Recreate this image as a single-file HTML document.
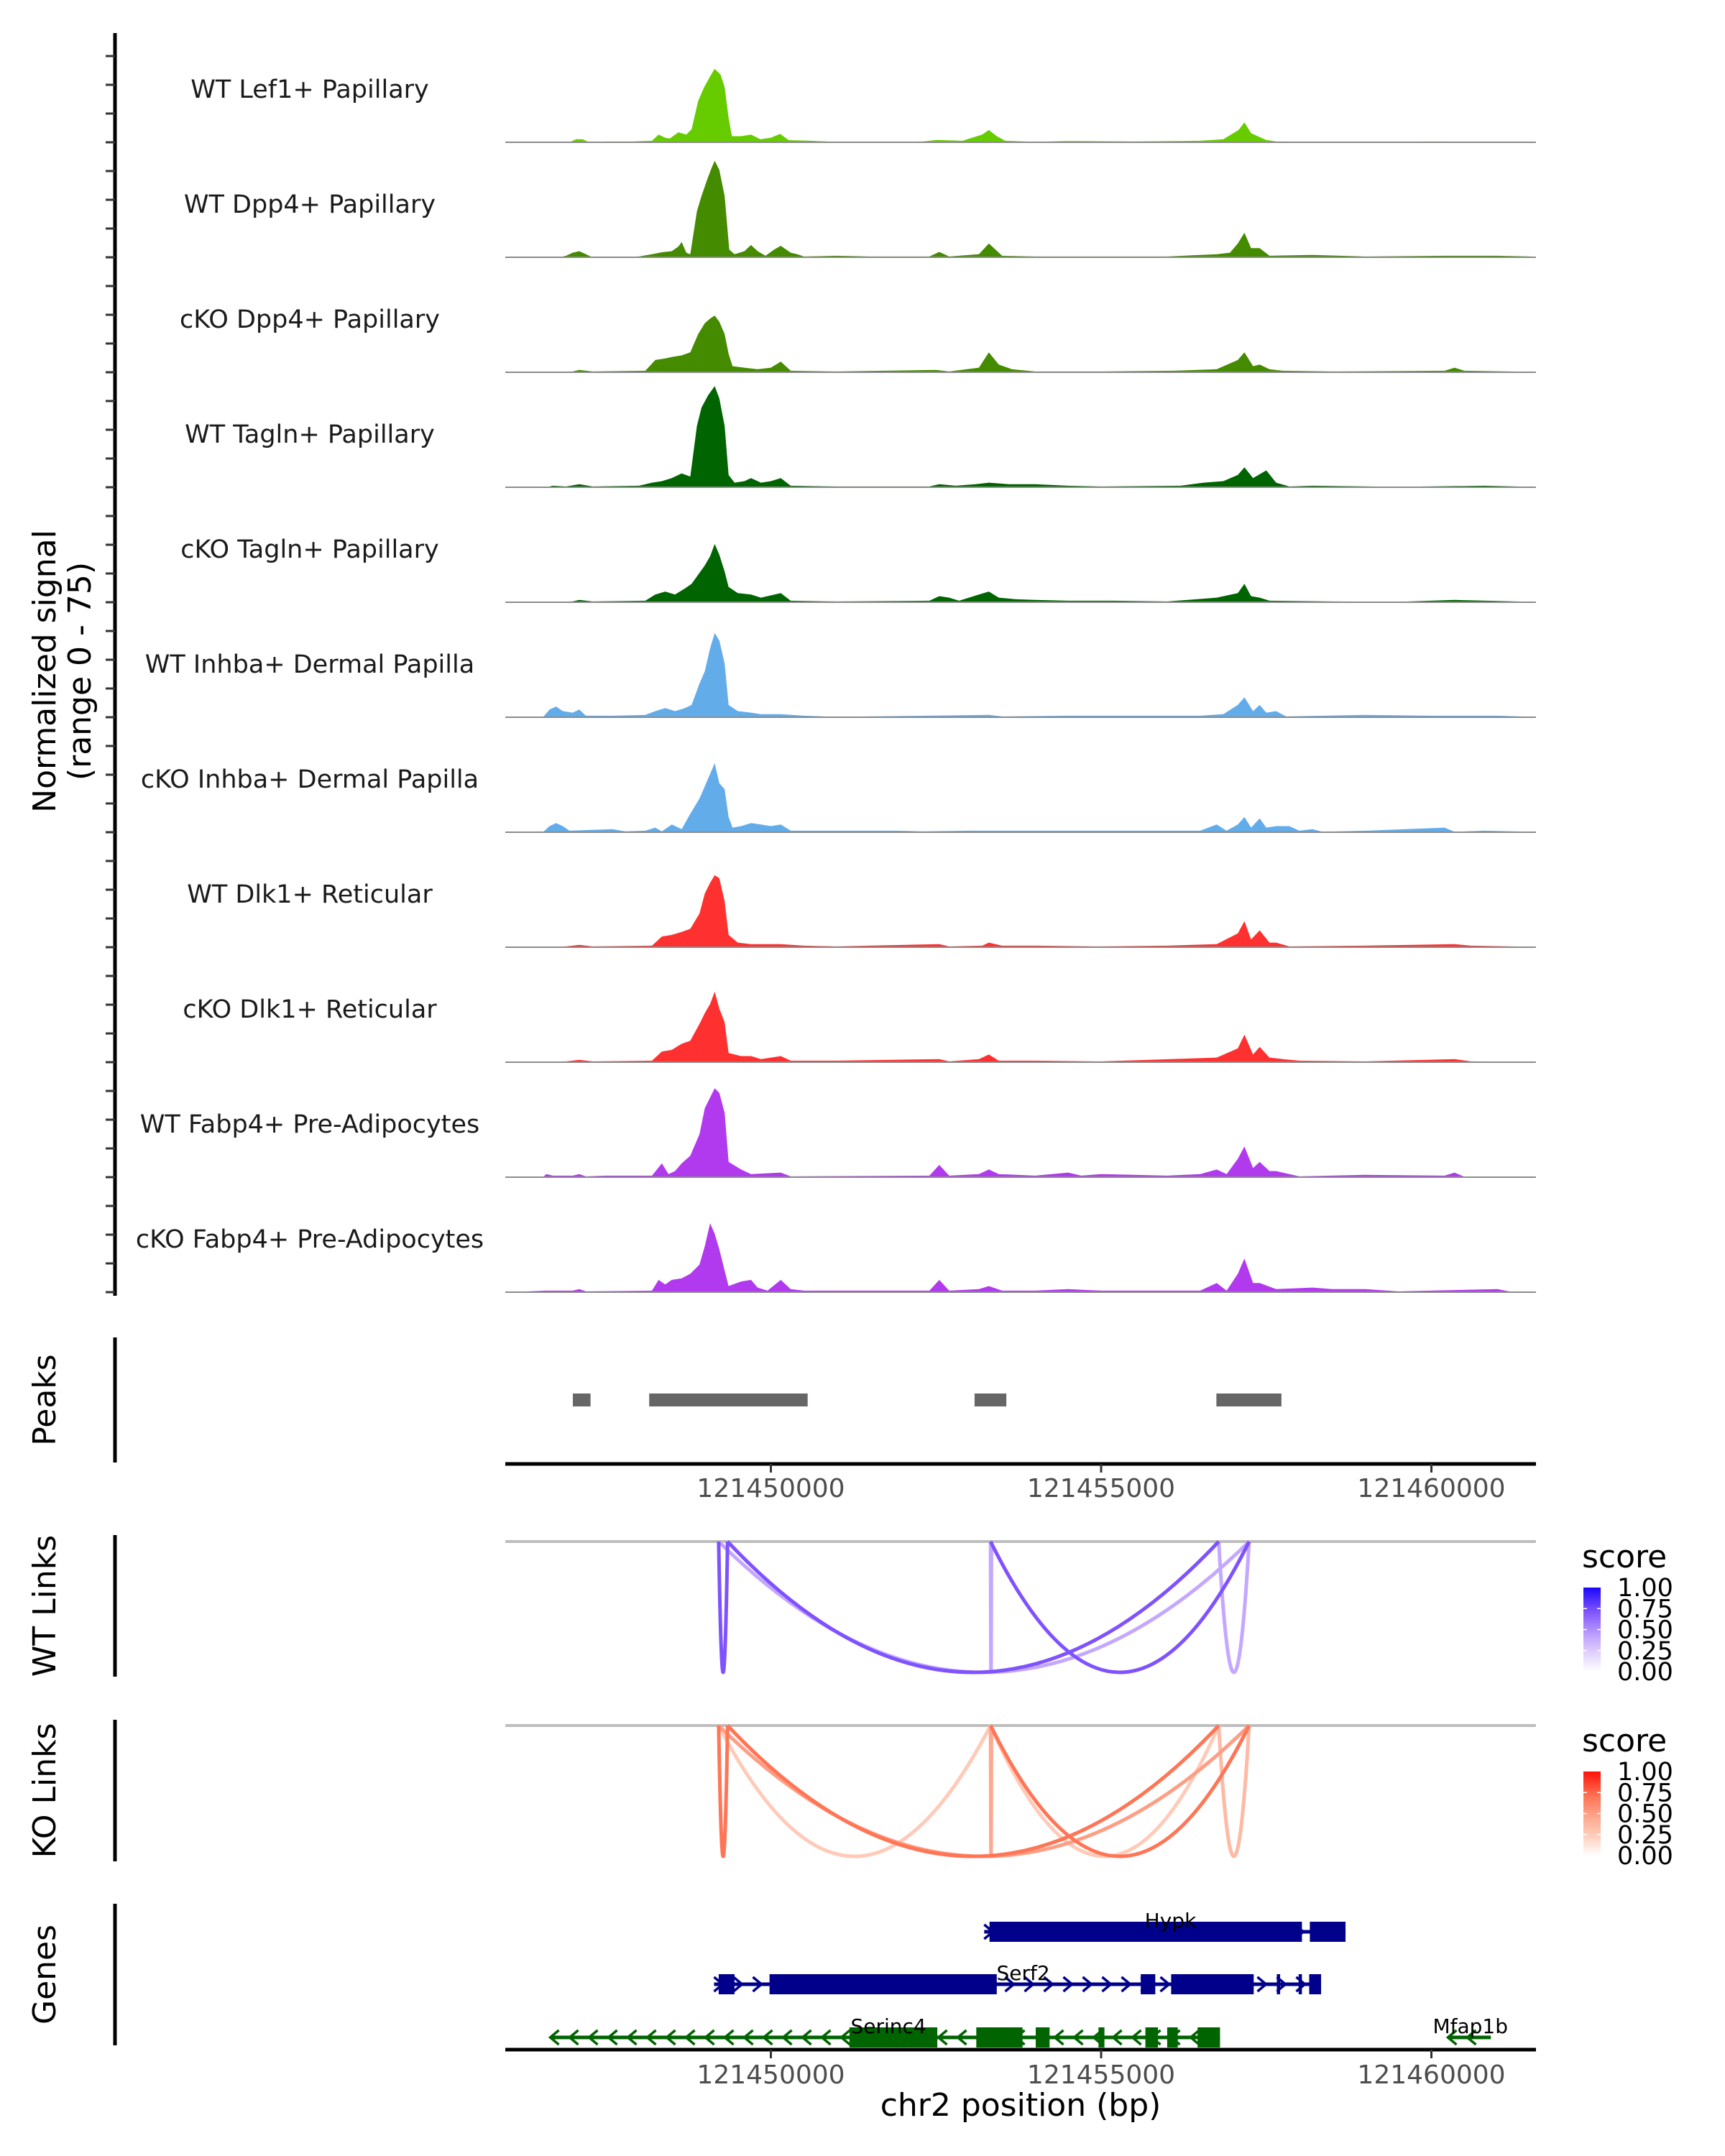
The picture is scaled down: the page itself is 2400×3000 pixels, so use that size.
<!DOCTYPE html>
<html><head><meta charset="utf-8"><style>
html,body{margin:0;padding:0;background:#fff;}
svg{display:block;font-family:"DejaVu Sans","Liberation Sans",sans-serif;}
</style></head><body>
<svg id="fig" xmlns="http://www.w3.org/2000/svg" width="2400" height="3000" viewBox="0 0 2400 3000">
<rect x="0" y="0" width="2400" height="3000" fill="#fff"/>
</svg>
<script>
// ---- data ----
const regionStartBp = 121440000; // positions below in kb relative to this
const xTickBp = [121450000, 121455000, 121460000];
const xTickLabels = ["121450000", "121455000", "121460000"];
const trackNames = ["WT Lef1+ Papillary","WT Dpp4+ Papillary","cKO Dpp4+ Papillary","WT Tagln+ Papillary","cKO Tagln+ Papillary","WT Inhba+ Dermal Papilla","cKO Inhba+ Dermal Papilla","WT Dlk1+ Reticular","cKO Dlk1+ Reticular","WT Fabp4+ Pre-Adipocytes","cKO Fabp4+ Pre-Adipocytes"];
const trackColors = ["#66cc00","#458b00","#458b00","#006400","#006400","#63acea","#63acea","#ff3030","#ff3030","#b23aee","#b23aee"];
const sigLef1 = [[6.02,0],[6.95,0],[7.05,2],[7.15,2],[7.25,0],[7.5,0.5],[7.9,0.5],[8.2,1],[8.3,5],[8.4,3],[8.47,2.5],[8.6,6.5],[8.72,5],[8.8,8.5],[8.9,27],[8.99,36],[9.08,43],[9.15,48],[9.24,44],[9.3,36],[9.36,16],[9.41,4],[9.55,4],[9.7,5],[9.84,2],[10.0,3],[10.14,5.5],[10.27,1.4],[10.6,1],[11.0,0.3],[12.3,0.5],[12.52,1.5],[12.9,1],[13.2,5],[13.3,8],[13.42,4],[13.55,1],[14.0,0.3],[14.5,0.8],[15.5,0.5],[16.5,1],[16.85,2],[17.08,8],[17.17,13],[17.27,6],[17.37,4],[17.5,1.5],[17.65,0.5],[18.5,0.3],[20.0,0.5],[21.51,0.3]];
const sigWtDpp4 = [[6.02,0],[6.8,0],[6.9,1],[7.0,3],[7.1,4],[7.2,2],[7.3,0],[7.5,0],[8.0,0.5],[8.2,2],[8.35,3.3],[8.5,4],[8.6,7],[8.65,10],[8.72,3],[8.78,2],[8.88,30],[8.95,40],[9.03,50],[9.1,58],[9.15,63],[9.22,57],[9.3,40],[9.37,5],[9.45,2],[9.6,4],[9.7,8],[9.8,4],[9.92,1],[10.05,5],[10.15,7.5],[10.3,3],[10.4,2],[10.5,0.5],[11.0,1],[11.5,0.5],[12.4,0.5],[12.55,3.5],[12.7,0.5],[13.15,2],[13.3,9],[13.4,5],[13.5,1],[14.0,0.5],[15.0,0.5],[16.0,0.5],[16.75,2],[16.95,3],[17.07,9],[17.17,16],[17.27,6],[17.4,6],[17.55,1],[18.2,1.5],[19.0,0.5],[20.2,1],[21.0,1],[21.51,0.5]];
const sigKoDpp4 = [[6.02,0],[7.0,0.5],[7.1,1.5],[7.3,0.5],[8.1,1],[8.25,8],[8.4,9],[8.5,10],[8.65,11],[8.78,13],[8.9,25],[9.0,32],[9.08,35],[9.15,37],[9.22,33],[9.3,25],[9.36,12],[9.42,4],[9.6,3],[9.8,2],[10.0,3],[10.15,7],[10.3,1],[11.0,0.5],[12.5,1.5],[12.7,0.5],[13.15,3],[13.3,13],[13.45,5],[13.65,2],[14.0,0.5],[15.0,0.5],[16.1,1],[16.75,2],[17.07,8],[17.17,13],[17.3,4],[17.4,5],[17.55,2],[17.75,1],[18.5,0.5],[20.2,1],[20.35,3],[20.5,1],[21.51,0.3]];
const sigWtTagln = [[6.02,0],[6.6,0],[6.7,1],[6.9,0.5],[7.1,2],[7.3,0.5],[8.0,1],[8.2,3],[8.35,4],[8.5,6],[8.65,9],[8.78,7],[8.88,40],[8.95,52],[9.05,60],[9.15,66],[9.22,58],[9.3,40],[9.36,8],[9.45,3],[9.6,4],[9.7,6],[9.85,3],[10.0,4],[10.15,6],[10.3,1],[11.0,0.5],[12.4,0.5],[12.55,2],[12.8,1],[13.1,2],[13.3,3],[13.6,2],[14.0,2],[14.5,1],[15.0,0.5],[16.2,1],[16.55,3],[16.85,4],[17.07,8],[17.17,13],[17.3,6],[17.5,11],[17.65,3],[17.85,0.5],[18.2,1],[19.5,0.3],[20.8,1],[21.51,0.3]];
const sigKoTagln = [[6.02,0],[7.0,0.5],[7.1,1.5],[7.3,0.5],[8.1,1],[8.25,5],[8.4,7],[8.55,5],[8.7,9],[8.8,12],[8.9,18],[9.0,24],[9.08,30],[9.15,38],[9.22,31],[9.3,20],[9.36,10],[9.5,6],[9.7,5],[9.85,3],[10.15,6],[10.3,1],[11.0,0.5],[12.4,1],[12.55,4],[12.7,3],[12.85,1],[13.15,5],[13.3,7],[13.45,3],[13.7,2],[14.0,1.5],[14.5,1],[15.2,1],[16.0,0.5],[16.75,3],[17.07,6],[17.17,12],[17.27,4],[17.4,3],[17.55,1],[18.5,0.5],[19.5,0.3],[20.35,1.5],[21.51,0.3]];
const sigWtInhba = [[6.02,0],[6.55,0],[6.65,5],[6.75,7],[6.85,4],[7.0,3],[7.1,5],[7.2,1],[7.6,1],[8.1,1.5],[8.25,4],[8.4,6],[8.55,4],[8.7,6],[8.8,8],[8.92,22],[9.0,30],[9.08,45],[9.15,55],[9.22,50],[9.3,35],[9.36,8],[9.5,4],[9.7,3],[9.85,2],[10.15,2],[10.5,1],[11.0,0.3],[13.3,1.5],[13.5,0.5],[14.5,1],[15.5,1],[16.5,1],[16.85,2],[17.07,8],[17.17,13],[17.3,4],[17.4,8],[17.5,3],[17.65,4],[17.8,0.5],[19.0,1.5],[20.0,1],[21.0,1],[21.51,0.3]];
const sigKoInhba = [[6.02,0],[6.55,0],[6.65,4],[6.75,6],[6.85,4],[6.95,1],[7.6,2],[7.8,0.5],[8.1,1],[8.25,3],[8.35,0.5],[8.5,5],[8.65,2],[8.78,12],[8.92,22],[9.0,30],[9.08,38],[9.15,45],[9.22,32],[9.3,28],[9.36,10],[9.42,3],[9.55,4],[9.7,6],[9.85,5],[10.0,4],[10.15,5],[10.3,1],[11.5,1],[11.9,1],[12.3,0.5],[13.0,1],[14.0,1],[14.5,1],[15.5,1],[16.1,1],[16.5,1],[16.75,5],[16.9,1],[17.07,5],[17.17,10],[17.27,3],[17.4,9],[17.5,3],[17.65,4],[17.85,4],[18.0,1],[18.2,2],[18.35,0.3],[19.0,1],[20.2,3],[20.35,0.3],[20.8,1],[21.51,0.3]];
const sigWtDlk1 = [[6.02,0],[6.9,0.5],[7.1,1.5],[7.3,0.5],[8.2,1],[8.35,7],[8.5,8],[8.65,10],[8.78,12],[8.92,22],[9.0,35],[9.08,42],[9.15,47],[9.22,45],[9.3,30],[9.36,8],[9.5,3],[9.7,2],[10.15,2],[10.5,1],[11.0,0.5],[12.55,2],[12.7,0.5],[13.2,1],[13.3,3],[13.5,1],[14.0,1],[15.0,0.5],[16.0,1],[16.75,2],[17.07,9],[17.17,17],[17.27,5],[17.4,11],[17.55,3],[17.65,3],[17.85,0.5],[19.0,1],[20.35,2],[20.6,1],[21.51,0.3]];
const sigKoDlk1 = [[6.02,0],[6.9,0.5],[7.1,1.5],[7.3,0.5],[8.2,1],[8.35,7],[8.5,8],[8.65,12],[8.78,14],[8.92,25],[9.0,32],[9.08,38],[9.15,46],[9.22,35],[9.3,26],[9.36,6],[9.55,4],[9.7,4],[9.85,2],[10.15,4],[10.3,1],[11.0,1],[12.55,2],[12.7,0.5],[13.15,2],[13.3,5],[13.45,1],[14.0,1],[15.0,0.5],[16.75,3],[17.07,9],[17.17,18],[17.3,5],[17.4,10],[17.55,3],[17.75,2],[18.0,1],[19.0,0.5],[20.35,2],[20.6,0.5],[21.51,0.3]];
const sigWtFabp4 = [[6.02,0],[6.55,0],[6.6,2],[6.7,1],[7.0,1],[7.1,2],[7.2,0.5],[7.5,1],[8.2,1],[8.35,9],[8.45,2],[8.55,4],[8.65,9],[8.78,14],[8.92,28],[9.0,45],[9.08,52],[9.15,58],[9.22,55],[9.3,42],[9.36,10],[9.55,5],[9.7,2],[10.15,3],[10.3,0.5],[12.4,1],[12.55,8],[12.7,1],[13.15,2],[13.3,5],[13.45,2],[14.0,1],[14.5,3],[14.7,1],[15.0,2],[15.5,1.5],[16.0,1],[16.5,2],[16.75,5],[16.9,2],[17.07,12],[17.17,20],[17.3,6],[17.4,10],[17.55,4],[17.65,4],[17.85,2],[18.0,0.5],[19.0,1.5],[20.2,1],[20.35,3],[20.5,0.3],[21.51,0.3]];
const sigKoFabp4 = [[6.02,0],[6.6,1],[7.0,1],[7.1,2],[7.2,0.5],[8.2,1],[8.3,8],[8.4,5],[8.5,8],[8.65,9],[8.78,12],[8.92,18],[9.0,30],[9.08,45],[9.15,38],[9.22,28],[9.3,14],[9.36,4],[9.55,7],[9.7,8],[9.8,3],[9.95,1],[10.15,8],[10.3,2],[10.5,1],[11.5,1],[12.4,1],[12.55,8],[12.7,1],[13.15,2],[13.3,4],[13.5,1],[14.0,1],[14.5,2],[15.0,1],[15.5,1],[16.5,1],[16.75,6],[16.9,1],[17.07,12],[17.17,22],[17.3,6],[17.4,6],[17.65,2],[18.2,3],[18.5,2],[19.0,2],[19.5,0.5],[21.0,2],[21.2,0.3],[21.51,0.3]];
const signals = [sigLef1, sigWtDpp4, sigKoDpp4, sigWtTagln, sigKoTagln, sigWtInhba, sigKoInhba, sigWtDlk1, sigKoDlk1, sigWtFabp4, sigKoFabp4];
const signalMax = 75;
const peakStarts = [7.002, 8.158, 13.084, 16.745];
const peakEnds = [7.27, 10.557, 13.565, 17.73];
const wtLinkStarts = [9.21, 9.345, 9.21, 13.326, 13.326, 16.78];
const wtLinkEnds = [9.345, 16.78, 17.24, 17.24, 13.34, 17.24];
const wtLinkScores = [0.72, 0.72, 0.4, 0.72, 0.4, 0.4];
const koLinkStarts = [9.21, 9.345, 9.21, 9.21, 13.326, 13.326, 13.326, 16.78];
const koLinkEnds = [9.345, 16.78, 17.24, 13.326, 17.24, 16.78, 13.34, 17.24];
const koLinkScores = [0.7, 0.7, 0.5, 0.25, 0.7, 0.25, 0.45, 0.35];
const legendTicks = [1.0, 0.75, 0.5, 0.25, 0.0];
const legendTickLabels = ["1.00", "0.75", "0.50", "0.25", "0.00"];
const geneNames = ["Hypk", "Serf2", "Serinc4", "Mfap1b"];
const geneStarts = [13.23, 9.14, 6.66, 20.25];
const geneEnds = [18.70, 18.33, 16.80, 20.9];
const geneStrands = ["+", "+", "-", "-"];
const geneRows = [0, 1, 2, 2];
const geneExons = [
  [[13.31,18.04],[18.16,18.70]],
  [[9.21,9.45],[9.98,13.42],[15.6,15.82],[16.06,17.31],[17.66,17.71],[17.99,18.04],[18.15,18.33]],
  [[11.19,12.52],[13.11,13.81],[14.01,14.22],[14.96,15.05],[15.67,15.86],[16.0,16.16],[16.46,16.80]],
  []
];
const geneLabelX = [16.05, 13.82, 11.78, 20.59];

// ---- scales ----
const NS = "http://www.w3.org/2000/svg";
const svg = document.getElementById("fig");
const PL = 703, PR = 2137;
function xs(kb){ return 1072.5 + (kb - (xTickBp[0]-regionStartBp)/1000) * 91.9; }
function trackBase(k){ return 198 + 160*k; }
function ys(k, v){ return trackBase(k) - v * 160 / signalMax; }
function el(tag, attrs, parent){ const e = document.createElementNS(NS, tag); for (const a in attrs) e.setAttribute(a, attrs[a]); (parent||svg).appendChild(e); return e; }
function txt(str, attrs, parent){ const e = el("text", attrs, parent); e.textContent = str; return e; }
function hex(c){ return [parseInt(c.slice(1,3),16),parseInt(c.slice(3,5),16),parseInt(c.slice(5,7),16)]; }
function scaleColor(stops, s){
  for (let i=1;i<stops.length;i++){ if (s <= stops[i][0]) { const a=stops[i-1], b=stops[i]; const t=(s-a[0])/(b[0]-a[0]); const ca=hex(a[1]), cb=hex(b[1]); return "rgb("+ca.map((v,j)=>Math.round(v+(cb[j]-v)*t)).join(",")+")"; } }
  return stops[stops.length-1][1];
}
const blueStops = [[0,"#ffffff"],[0.25,"#dccbff"],[0.4,"#c4a8ff"],[0.72,"#7f52ff"],[1,"#1a08ff"]];
const redStops = [[0,"#ffffff"],[0.25,"#ffcab8"],[0.45,"#ffa890"],[0.7,"#ff7556"],[1,"#ff1208"]];

// ---- signal tracks ----
const ax = el("line",{x1:160,y1:46,x2:160,y2:1803,stroke:"#000","stroke-width":5});


for (let k=0;k<signals.length;k++){
  const g = el("g",{});
  
  
  for (let t=0;t<4;t++){
    const yy = trackBase(k) - t*40;
    const tk = el("line",{x1:147,y1:yy,x2:160,y2:yy,stroke:"#333","stroke-width":3},g);
    
    
  }
  const lab = txt(trackNames[k],{x:431,y:trackBase(k)-62,"font-size":35,"text-anchor":"middle",fill:"#1a1a1a"},g);
  
  
  const pts = signals[k];
  let d = "M"+xs(pts[0][0]).toFixed(1)+","+trackBase(k);
  for (const p of pts) d += " L"+xs(p[0]).toFixed(1)+","+ys(k,p[1]).toFixed(1);
  d += " L"+xs(pts[pts.length-1][0]).toFixed(1)+","+trackBase(k)+" Z";
  const area = el("path",{d:d,fill:trackColors[k]},g);
  
  
  const bl = el("line",{x1:PL,y1:trackBase(k),x2:PR,y2:trackBase(k),stroke:"#8c8c8c","stroke-width":2},g);
  
  
}
const yt1 = txt("Normalized signal",{x:0,y:0,"font-size":44,"text-anchor":"middle",fill:"#000",transform:"translate(77,934) rotate(-90)"});


const yt2 = txt("(range 0 - 75)",{x:0,y:0,"font-size":44,"text-anchor":"middle",fill:"#000",transform:"translate(126,934) rotate(-90)"});



// ---- side labels & axes ----
function sideLabel(name, label, y1, y2){
  const l = el("line",{x1:160,y1:y1,x2:160,y2:y2,stroke:"#000","stroke-width":5});
  
  
  const t = txt(label,{x:0,y:0,"font-size":44,"text-anchor":"middle",fill:"#000",transform:"translate(77,"+((y1+y2)/2)+") rotate(-90)"});
  
  
}
sideLabel("peaks","Peaks",1861,2035);
sideLabel("wt-links","WT Links",2136,2333);
sideLabel("ko-links","KO Links",2393,2590);
sideLabel("genes","Genes",2649,2846);

// ---- peaks ----
for (let i=0;i<peakStarts.length;i++){
  const r = el("rect",{x:xs(peakStarts[i]),y:1939,width:xs(peakEnds[i])-xs(peakStarts[i]),height:18,fill:"#666666"});
  
  
}
function xAxis(name, y, labY){
  const l = el("line",{x1:PL,y1:y,x2:PR,y2:y,stroke:"#000","stroke-width":5});
  
  
  for (let i=0;i<xTickBp.length;i++){
    const xx = xs((xTickBp[i]-regionStartBp)/1000);
    const t = el("line",{x1:xx,y1:y,x2:xx,y2:y+12,stroke:"#333","stroke-width":3});
    
    
    const tl = txt(xTickLabels[i],{x:xx,y:labY,"font-size":36,"text-anchor":"middle",fill:"#4d4d4d"});
    
    
  }
}
xAxis("peaks", 2037, 2083);

// ---- links ----
function drawLinks(name, y0, depth, starts, ends, scores, stops){
  const gl = el("line",{x1:PL,y1:y0,x2:PR,y2:y0,stroke:"#bebebe","stroke-width":4});
  
  
  const order = scores.map((s,i)=>i).sort((a,b)=>scores[a]-scores[b]);
  for (const i of order){
    const x1 = xs(starts[i]), x2 = xs(ends[i]);
    const d = "M"+x1.toFixed(1)+","+y0+" Q"+((x1+x2)/2).toFixed(1)+","+(y0+2*depth)+" "+x2.toFixed(1)+","+y0;
    const p = el("path",{d:d,fill:"none",stroke:scaleColor(stops,scores[i]),"stroke-width":5});
    
    
  }
}
drawLinks("wt-link", 2145, 182, wtLinkStarts, wtLinkEnds, wtLinkScores, blueStops);
drawLinks("ko-link", 2401, 182, koLinkStarts, koLinkEnds, koLinkScores, redStops);

// ---- legends ----
function legend(name, y, stops, gid){
  const defs = el("defs",{});
  const lg = el("linearGradient",{id:gid,x1:0,y1:1,x2:0,y2:0},defs);
  for (let i=0;i<=10;i++){ el("stop",{offset:(i/10),"stop-color":scaleColor(stops,i/10)},lg); }
  const t = txt("score",{x:2201,y:y,"font-size":44,fill:"#000"});
  
  
  const top = y + 28, h = 117;
  const bar = el("rect",{x:2203,y:top,width:24,height:h,fill:"url(#"+gid+")"});
  
  
  for (let i=0;i<legendTicks.length;i++){
    const yy = top + h - legendTicks[i]*h;
    if (legendTicks[i] > 0 && legendTicks[i] < 1){
      el("line",{x1:2203,y1:yy,x2:2208,y2:yy,stroke:"#fff","stroke-width":1.5});
      el("line",{x1:2222,y1:yy,x2:2227,y2:yy,stroke:"#fff","stroke-width":1.5});
    }
    const lt = txt(legendTickLabels[i],{x:2250,y:yy+12,"font-size":35,fill:"#000"});
    
    
  }
}
legend("wt", 2181, blueStops, "gblue");
legend("ko", 2437, redStops, "gred");

// ---- genes ----
const rowY = [2688, 2761, 2835];
for (let i=0;i<geneNames.length;i++){
  const g = el("g",{});
  
  
  const col = geneStrands[i] === "+" ? "#00008b" : "#006400";
  const y = rowY[geneRows[i]];
  const xa = xs(geneStarts[i]), xb = xs(geneEnds[i]);
  el("line",{x1:xa,y1:y,x2:xb,y2:y,stroke:col,"stroke-width":5},g);
  for (let xx = xa + 6; xx < xb - 4; xx += 27){
    const dx = geneStrands[i] === "+" ? 6 : -6;
    el("path",{d:"M"+(xx-dx)+","+(y-10)+" L"+(xx+dx)+","+y+" L"+(xx-dx)+","+(y+10),fill:"none",stroke:col,"stroke-width":3.5},g);
  }
  for (const ex of geneExons[i]){
    const r = el("rect",{x:xs(ex[0]),y:y-14,width:Math.max(3,xs(ex[1])-xs(ex[0])),height:28,fill:col},g);
    
    
  }
  const lab = txt(geneNames[i],{x:xs(geneLabelX[i]),y:y-6,"font-size":28,"text-anchor":"middle",fill:"#000"},g);
  
  
}
xAxis("genes", 2852, 2899);
const xt = txt("chr2 position (bp)",{x:1420,y:2944,"font-size":44,"text-anchor":"middle",fill:"#000"});


</script>
</body></html>
